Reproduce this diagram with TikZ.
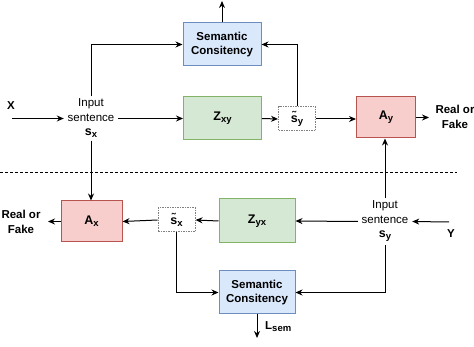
\documentclass[tikz,border=0pt]{standalone}
\usepackage{fontspec}
\setmainfont{Liberation Sans}
\usetikzlibrary{arrows.meta}
\definecolor{bluefill}{HTML}{DAE8FC}
\definecolor{bluedraw}{HTML}{6C8EBF}
\definecolor{greenfill}{HTML}{D5E8D4}
\definecolor{greendraw}{HTML}{82B366}
\definecolor{redfill}{HTML}{F8CECC}
\definecolor{reddraw}{HTML}{B85450}
\newcommand{\sbs}[1]{\raisebox{-2pt}{\fontsize{9.5}{10}\selectfont\bfseries #1}}
\begin{document}
\begin{tikzpicture}[x=1pt,y=-1pt,
  every node/.style={font=\fontsize{11.5}{14.5}\selectfont, inner sep=0pt, align=center},
  semb/.style={draw=bluedraw, fill=bluefill, line width=1pt, minimum width=78pt, minimum height=43pt, font=\fontsize{11.5}{14.5}\selectfont\bfseries},
  genb/.style={draw=greendraw, fill=greenfill, line width=1pt, minimum width=78pt, minimum height=43pt, font=\fontsize{12.5}{14.5}\selectfont\bfseries},
  disb/.style={draw=reddraw, fill=redfill, line width=1pt, minimum width=59pt, minimum height=41pt, font=\fontsize{12.5}{14.5}\selectfont\bfseries},
  tildeb/.style={draw=gray, dash pattern=on 1.5pt off 1pt, fill=white, line width=1pt, minimum width=37pt, minimum height=24pt, font=\fontsize{12.5}{14.5}\selectfont\bfseries},
  inp/.style={minimum width=54pt, minimum height=44pt},
  lab/.style={font=\fontsize{11.5}{14.5}\selectfont\bfseries},
  conn/.style={line width=1pt, -{Stealth[length=7pt,width=6pt]}},
  plain/.style={line width=1pt}
]
\useasboundingbox (0,0) rectangle (474,347);

% top half
\node[semb] (sem1) at (222,44.5) {Semantic\\Consitency};
\node[genb] (zxy) at (222.5,118.5) {Z\sbs{xy}};
\node[tildeb] (sty) at (297,119) {\~{s}\sbs{y}};
\node[disb] (ay) at (386,117.5) {A\sbs{y}};
\node[inp] (sx) at (91,118.5) {Input\\sentence\\{\fontsize{12.5}{14.5}\selectfont\bfseries s\sbs{x}}};
\node[lab] (xl) at (11,106) {X};
\node[lab] (rf1) at (455,117) {Real or\\Fake};
\coordinate (xin) at (12,118.5);
\coordinate (top) at (222,1);
\coordinate (rf1in) at (429,117.5);

% separator
\draw[line width=0.8pt, dash pattern=on 3pt off 2pt] (0,172) -- (457,172);

% bottom half
\node[disb, minimum width=61pt] (ax) at (91.5,221.5) {A\sbs{x}};
\node[tildeb] (stx) at (176.5,220) {\~{s}\sbs{x}};
\node[genb, minimum width=76pt, minimum height=44pt] (zyx) at (257,221) {Z\sbs{yx}};
\node[semb, minimum width=76pt] (sem2) at (257,292.5) {Semantic\\Consitency};
\node[inp, minimum height=47pt] (sy) at (385,221.5) {Input\\sentence\\{\fontsize{12.5}{14.5}\selectfont\bfseries s\sbs{y}}};
\node[lab] (yl) at (451,234) {Y};
\node[lab] (rf2) at (21,222) {Real or\\Fake};
\node[lab, anchor=west] (lsem) at (265,327) {L\sbs{sem}};
\coordinate (yin) at (449,222);
\coordinate (rf2in) at (48,221.5);
\coordinate (bot) at (257,338);

% top connectors
\draw[conn] (xin) -- (sx.west);
\draw[conn] (sx.east) -- (zxy.west);
\draw[conn] (sx.north) |- (sem1.west);
\draw[conn] (sx.south) -- (sx.south |- ax.north);
\draw[conn] (zxy.east) -- (sty.west);
\draw[conn] (sty.north) |- (sem1.east);
\draw[conn] (sem1.north) -- (top);
\draw[conn] (sty.east) -- (sty.east -| ay.west);
\draw[conn] (ay.east) -- (rf1in);

% bottom connectors
\draw[conn] (sy.north) -- (sy.north |- ay.south);
\draw[conn] (yin) -- (sy.east);
\draw[conn] (sy.west) -- (zyx.east);
\draw[conn] (sy.south) |- (sem2.east);
\draw[conn] (zyx.west) -- (stx.east);
\draw[conn] (stx.west) -- (ax.east);
\draw[conn] (ax.west) -- (rf2in);
\draw[conn] (stx.south) |- (sem2.west);
\draw[conn] (sem2.south) -- (bot);
\end{tikzpicture}
\end{document}
